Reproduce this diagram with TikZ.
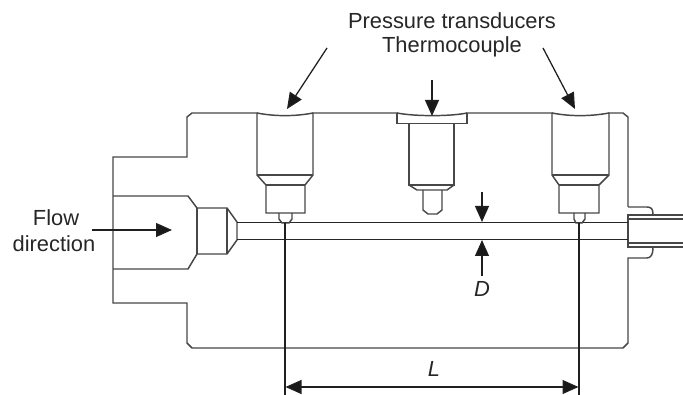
\documentclass[tikz,border=0pt]{standalone}
\usepackage{fontspec}
\setmainfont{Liberation Sans}
\usetikzlibrary{arrows.meta}
\tikzset{
  part/.style={draw=black!72,line width=1.1pt,line join=miter},
  thin part/.style={draw=black!85,line width=0.85pt},
  wipe/.style={draw=white,line width=2.2pt},
  dim/.style={draw=black!88,line width=0.95pt},
  arr/.style={dim,-{Triangle[length=12pt,width=10.5pt,fill=black!90]}},
  lbl/.style={font=\fontsize{16.4}{18}\selectfont,text=black!85,inner sep=0pt},
  ital/.style={lbl,font=\fontsize{16.4}{18}\selectfont\itshape}
}
\begin{document}
\begin{tikzpicture}[x=0.75pt,y=-0.75pt]
\useasboundingbox (0,0) rectangle (683,395);
% outer body
\draw[part] (628,207) -- (628,117) -- (623,113) -- (192,113) -- (187,117) -- (187,157) -- (113,157) -- (113,303) -- (187,303) -- (187,343) -- (192,348) -- (623,348) -- (628,343) -- (628,258) -- (647,258) .. controls (651,258) and (653,254) .. (653,248);
\draw[part] (628,207) -- (647,207) .. controls (651,207) and (653,209) .. (653,214);
% outlet tube
\draw[part] (683,215) -- (628,215) -- (628,247) -- (683,247);
\draw[part] (628,219) -- (683,219);
\draw[part] (628,243) -- (683,243);
% inlet cavity
\draw[part] (113,196) -- (188,196) -- (197,208) -- (227,208) -- (237,222) -- (237,240) -- (227,254) -- (197,254) -- (188,269) -- (113,269);
\draw[part] (197,208) -- (197,254);
\draw[part] (227,208) -- (227,254);
% bore
\draw[thin part] (237,222.5) -- (628,222.5);
\draw[thin part] (237,239.5) -- (628,239.5);
% left transducer
\draw[wipe] (258,113) -- (312,113);
\draw[part] (257,113) -- (257,175) -- (266,185) -- (266,213) -- (305,213) -- (305,185) -- (313,175) -- (313,113);
\draw[part] (257,175) -- (313,175);
\draw[part] (266,185) -- (305,185);
\draw[part] (279,213) -- (279,219) -- (282,223) -- (289,223) -- (292,219) -- (292,213);
\draw[part] (257,113) .. controls (275,116.5) and (295,116.5) .. (313,113);
% thermocouple
\draw[wipe] (398,113) -- (466,113);
\draw[part] (397,113) .. controls (415,116.5) and (450,116.5) .. (467,113);
\draw[part] (397,113) -- (397,123.5) -- (467,123.5) -- (467,113);
\draw[part] (409,123.5) -- (409,185) -- (454,185) -- (454,123.5);
\draw[part] (409,185) -- (417,190) -- (447,190) -- (454,185);
\draw[part] (423,190) -- (423,210) -- (428,214) -- (437,214) -- (442,210) -- (442,190);
% right transducer
\draw[wipe] (553,113) -- (608,113);
\draw[part] (552,113) -- (552,175) -- (559,185) -- (559,213) -- (599,213) -- (599,185) -- (609,175) -- (609,113);
\draw[part] (552,175) -- (609,175);
\draw[part] (559,185) -- (599,185);
\draw[part] (574,213) -- (574,219) -- (576,223) -- (582,223) -- (585,219) -- (585,213);
\draw[part] (552,113) .. controls (570,116.5) and (590,116.5) .. (609,113);
% labels
\node[lbl] (flow) at (56,218) {Flow};
\node[lbl] (direction) at (54,243.5) {direction};
\node[lbl] (pt) at (452,21) {Pressure transducers};
\node[lbl] (tc) at (452,47) {Thermocouple};
\node[ital] (dlabel) at (482,289) {D};
\node[ital] (llabel) at (434,369) {L};
% connector end points
\coordinate (a1) at (327,48); \coordinate (a2) at (287,109);
\coordinate (b1) at (543,48); \coordinate (b2) at (575,109);
\coordinate (c1) at (432,80); \coordinate (c2) at (432,116);
\coordinate (f1) at (92,230); \coordinate (f2) at (172,230);
\coordinate (d1) at (482,192); \coordinate (d2) at (482,222);
\coordinate (d3) at (482,276); \coordinate (d4) at (482,240);
\coordinate (l1) at (285,223); \coordinate (l2) at (285,395);
\coordinate (r1) at (579,223); \coordinate (r2) at (579,395);
\coordinate (m1) at (285.5,387); \coordinate (m2) at (578.5,387);
\draw[arr] (a1) -- (a2);
\draw[arr] (b1) -- (b2);
\draw[arr] (c1) -- (c2);
\draw[arr] (f1) -- (f2);
\draw[arr] (d1) -- (d2);
\draw[arr] (d3) -- (d4);
\draw[dim] (l1) -- (l2);
\draw[dim] (r1) -- (r2);
\draw[dim,{Triangle[length=12pt,width=10.5pt,fill=black!90]}-{Triangle[length=12pt,width=10.5pt,fill=black!90]}] (m1) -- (m2);
\end{tikzpicture}
\end{document}
